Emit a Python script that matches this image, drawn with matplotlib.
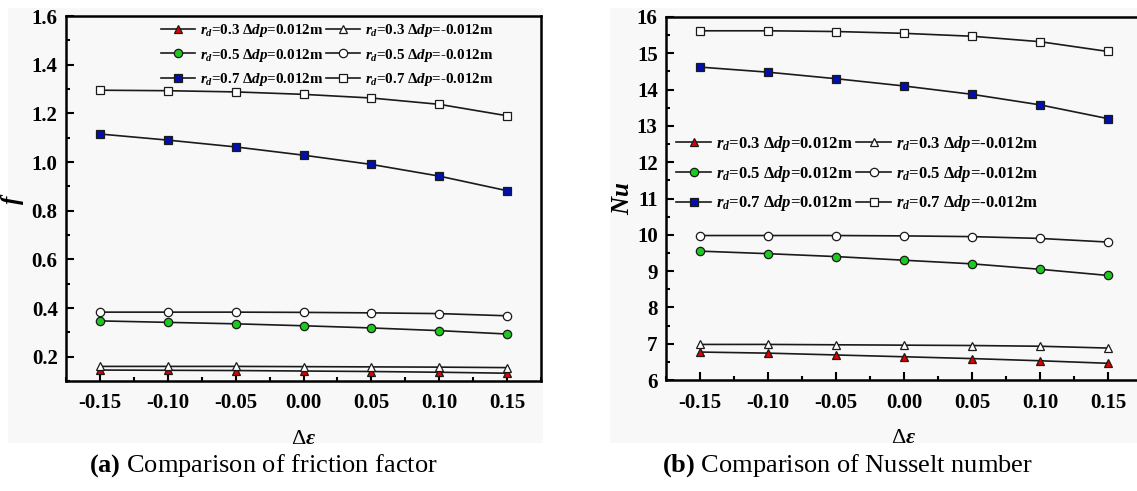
import matplotlib
matplotlib.use("Agg")
import matplotlib.pyplot as plt
from matplotlib.patches import Rectangle
from matplotlib.ticker import MultipleLocator, FormatStrFormatter

plt.rcParams['font.family'] = ['Liberation Serif', 'DejaVu Serif']
plt.rcParams['mathtext.fontset'] = 'custom'
plt.rcParams['mathtext.rm'] = 'Liberation Serif:bold'
plt.rcParams['mathtext.it'] = 'Liberation Serif:bold:italic'
plt.rcParams['mathtext.bf'] = 'Liberation Serif:bold'

# ---- data ----
d_eps = [-0.15, -0.10, -0.05, 0.00, 0.05, 0.10, 0.15]
x_ticks = ['-0.15', '-0.10', '-0.05', '0.00', '0.05', '0.10', '0.15']

labels = [r'$r_d$=0.3 Δ$dp$=0.012m', r'$r_d$=0.3 Δ$dp$=-0.012m',
          r'$r_d$=0.5 Δ$dp$=0.012m', r'$r_d$=0.5 Δ$dp$=-0.012m',
          r'$r_d$=0.7 Δ$dp$=0.012m', r'$r_d$=0.7 Δ$dp$=-0.012m']

f_r03_pos = [0.145, 0.144, 0.143, 0.141, 0.139, 0.136, 0.132]
f_r03_neg = [0.160, 0.160, 0.160, 0.159, 0.158, 0.157, 0.155]
f_r05_pos = [0.347, 0.341, 0.335, 0.327, 0.318, 0.307, 0.293]
f_r05_neg = [0.383, 0.383, 0.383, 0.382, 0.380, 0.377, 0.368]
f_r07_pos = [1.115, 1.090, 1.062, 1.028, 0.990, 0.942, 0.882]
f_r07_neg = [1.295, 1.293, 1.288, 1.278, 1.263, 1.237, 1.190]

nu_r03_pos = [6.77, 6.74, 6.69, 6.64, 6.59, 6.53, 6.46]
nu_r03_neg = [6.98, 6.98, 6.97, 6.96, 6.95, 6.93, 6.88]
nu_r05_pos = [9.55, 9.48, 9.40, 9.30, 9.20, 9.05, 8.88]
nu_r05_neg = [9.98, 9.98, 9.98, 9.97, 9.95, 9.90, 9.80]
nu_r07_pos = [14.62, 14.48, 14.30, 14.10, 13.87, 13.58, 13.20]
nu_r07_neg = [15.62, 15.62, 15.60, 15.55, 15.47, 15.32, 15.05]

# ---- styles ----
styles = [
    dict(marker='^', mfc='#e00000'),
    dict(marker='^', mfc='white'),
    dict(marker='o', mfc='#1ec81e'),
    dict(marker='o', mfc='white'),
    dict(marker='s', mfc='#0010a8'),
    dict(marker='s', mfc='white'),
]

W, H = 1137, 491
fig = plt.figure(figsize=(W / 100, H / 100), dpi=100)
fig.patch.set_facecolor('white')

bg = '#f8f8f8'
fig.patches.append(Rectangle((8 / W, 1 - 443 / H), (543 - 8) / W, (443 - 8) / H,
                             transform=fig.transFigure, facecolor=bg, edgecolor='none', zorder=-5))
fig.patches.append(Rectangle((610 / W, 1 - 443 / H), (W - 610) / W, (443 - 8) / H,
                             transform=fig.transFigure, facecolor=bg, edgecolor='none', zorder=-5))

ax1 = fig.add_axes([66 / W, 1 - 381 / H, (541 - 66) / W, (381 - 16) / H])
ax2 = fig.add_axes([666 / W, 1 - 380 / H, (1142 - 666) / W, (380 - 17) / H])


def draw(ax, series, ylim, ymaj, ymin, yfmt):
    ax.set_facecolor(bg)
    for vals, st, lab in zip(series, styles, labels):
        ax.plot(d_eps, vals, color='#1a1a1a', lw=1.2, marker=st['marker'],
                mfc=st['mfc'], mec='#1a1a1a', mew=0.9, ms=6, label=lab)
    ax.set_xlim(-0.175, 0.175)
    ax.set_ylim(*ylim)
    ax.set_xticks(d_eps)
    ax.set_xticklabels(x_ticks)
    ax.xaxis.set_minor_locator(MultipleLocator(0.025))
    ax.yaxis.set_major_locator(MultipleLocator(ymaj))
    ax.yaxis.set_minor_locator(MultipleLocator(ymin))
    ax.yaxis.set_major_formatter(FormatStrFormatter(yfmt))
    ax.tick_params(which='both', direction='in', top=False, right=False, width=1.5)
    ax.tick_params(which='major', length=6, labelsize=15, pad=6)
    ax.tick_params(axis='x', which='major', pad=9)
    ax.tick_params(which='minor', length=3)
    for lab in ax.get_xticklabels() + ax.get_yticklabels():
        lab.set_fontweight('bold')
    for sp in ax.spines.values():
        sp.set_linewidth(1.8)
    ax.set_xlabel('Δ$\\varepsilon$', fontsize=16, labelpad=12)


draw(ax1, [f_r03_pos, f_r03_neg, f_r05_pos, f_r05_neg, f_r07_pos, f_r07_neg],
     (0.1, 1.6), 0.2, 0.1, '%.1f')
draw(ax2, [nu_r03_pos, nu_r03_neg, nu_r05_pos, nu_r05_neg, nu_r07_pos, nu_r07_neg],
     (6, 16), 1, 0.5, '%d')

ax1.set_ylabel('$f$', fontsize=18, labelpad=4)
ax2.set_ylabel('$Nu$', fontsize=18, labelpad=2)

order = [0, 2, 4, 1, 3, 5]


def legend(ax, anchor, size, spacing, hl):
    h, l = ax.get_legend_handles_labels()
    return ax.legend([h[i] for i in order], [l[i] for i in order], ncol=2,
                     loc='upper left', bbox_to_anchor=anchor, frameon=False,
                     handlelength=hl, handletextpad=0.3, columnspacing=0.2,
                     labelspacing=spacing, borderaxespad=0.2,
                     prop={'weight': 'bold', 'size': size})


legend(ax1, (0.18, 1.008), 10.8, 0.5, 2.3)
legend(ax2, (0.0, 0.705), 12, 0.58, 2.1)

fig.text(263 / W, 1 - 466 / H, r'$\mathbf{(a)}$ Comparison of friction factor',
         ha='center', va='center', fontsize=19)
fig.text(847 / W, 1 - 466 / H, r'$\mathbf{(b)}$ Comparison of Nusselt number',
         ha='center', va='center', fontsize=19)

fig.savefig('out.png', dpi=100, facecolor='white')
